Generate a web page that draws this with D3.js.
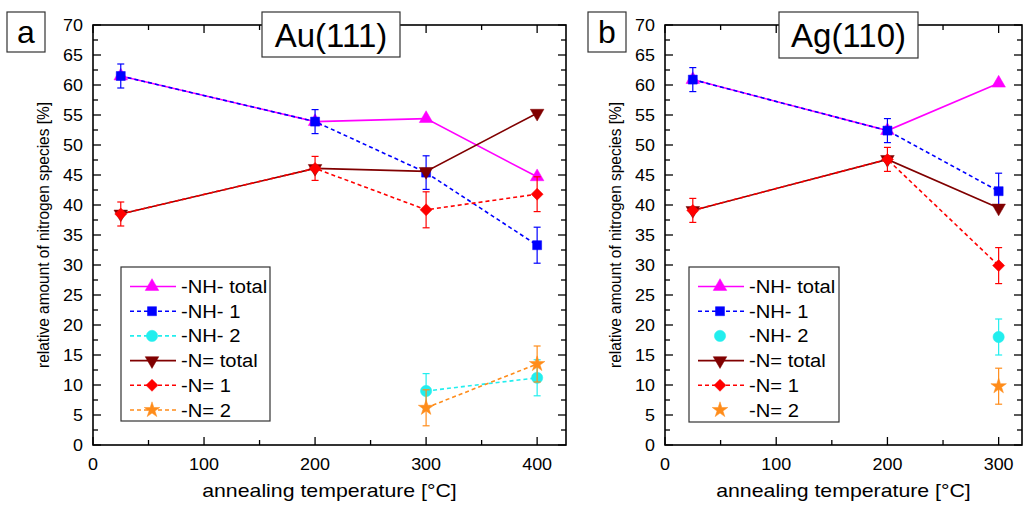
<!DOCTYPE html>
<html><head><meta charset="utf-8">
<script src="https://cdn.jsdelivr.net/npm/d3@7"></script>
<style>
body{margin:0;background:#fff;}
svg{display:block;font-family:"Liberation Sans",Arial,sans-serif;}
</style></head>
<body><svg id="c" width="1027" height="506"></svg>
<script>
// ---------- data ----------
const seriesNames = ["-NH- total", "-NH- 1", "-NH- 2", "-N= total", "-N= 1", "-N= 2"];
const yTicks = [0,5,10,15,20,25,30,35,40,45,50,55,60,65,70];
const xTicksA = [0,100,200,300,400];
const xTicksB = [0,100,200,300];

// Au(111)
const tempsA = [25, 200, 300, 400];
const nhTotalA = [61.5, 53.9, 54.4, 44.7];
const nh1A     = [61.5, 53.9, 45.4, 33.3];
const nh1ErrA  = [2.0, 2.0, 2.8, 3.0];
const nh2A     = [null, null, 9.0, 11.2];
const nh2ErrA  = [null, null, 2.9, 3.0];
const nTotalA  = [38.5, 46.1, 45.6, 55.3];
const n1A      = [38.5, 46.1, 39.2, 41.8];
const n1ErrA   = [2.0, 2.0, 3.0, 2.9];
const n2A      = [null, null, 6.2, 13.5];
const n2ErrA   = [null, null, 3.0, 3.0];

// Ag(110)
const tempsB = [25, 200, 300];
const nhTotalB = [60.9, 52.4, 60.3];
const nh1B     = [60.9, 52.4, 42.3];
const nh1ErrB  = [2.0, 2.0, 3.0];
const nh2B     = [null, null, 18.0];
const nh2ErrB  = [null, null, 3.0];
const nTotalB  = [39.1, 47.6, 39.5];
const n1B      = [39.1, 47.6, 29.9];
const n1ErrB   = [2.0, 2.0, 3.0];
const n2B      = [null, null, 9.8];
const n2ErrB   = [null, null, 3.0];

// ---------- styles ----------
const styles = [
  {color:"#ff00ff", dash:null, sym:"triUp"},
  {color:"#0000ff", dash:"4,3", sym:"square"},
  {color:"#22eeee", dash:"4,3", sym:"circle"},
  {color:"#800000", dash:null, sym:"triDown"},
  {color:"#ff0000", dash:"4,3", sym:"diamond"},
  {color:"#ff8c1a", dash:"4,3", sym:"star"}
];
function symPath(s){
  switch(s){
    case "triUp": return {d:d3.symbol(d3.symbolTriangle,80)(), rot:0};
    case "triDown": return {d:d3.symbol(d3.symbolTriangle,80)(), rot:180};
    case "square": return {d:d3.symbol(d3.symbolSquare,81)(), rot:0};
    case "circle": return {d:d3.symbol(d3.symbolCircle,100)(), rot:0};
    case "diamond": return {d:d3.symbol(d3.symbolSquare,72)(), rot:45};
    case "star": return {d:d3.symbol(d3.symbolStar,75)(), rot:0};
  }
}
const STRETCH = 1.12;
function stretch(sel, f){
  sel.each(function(){
    const w = this.getComputedTextLength();
    d3.select(this).attr("textLength", w*f).attr("lengthAdjust","spacingAndGlyphs");
  });
}

const svg = d3.select("#c");

function panel(opt){
  const {left,right,top,bottom,xmax,xTicks,temps,vals,errs,letter,title,letterBox,titleBox,legendBox} = opt;
  const x = d3.scaleLinear().domain([0,xmax]).range([left,right]);
  const y = d3.scaleLinear().domain([0,70]).range([bottom,top]);
  const g = svg.append("g");

  // frame
  g.append("rect").attr("x",left).attr("y",top).attr("width",right-left).attr("height",bottom-top)
    .attr("fill","none").attr("stroke","#000").attr("stroke-width",1.6);

  // ticks
  const xMinor = d3.range(0, xmax+1, 50);
  const yMinor = d3.range(0, 70.1, 2.5);
  const tk = g.append("g").attr("stroke","#000").attr("stroke-width",1.3);
  xMinor.forEach(v=>{
    const major = v%100===0; const L = major?8:5;
    tk.append("line").attr("x1",x(v)).attr("x2",x(v)).attr("y1",bottom).attr("y2",bottom-L);
    tk.append("line").attr("x1",x(v)).attr("x2",x(v)).attr("y1",top).attr("y2",top+L);
  });
  yMinor.forEach(v=>{
    const major = Math.abs(v%5)<1e-6; const L = major?8:5;
    tk.append("line").attr("x1",left).attr("x2",left+L).attr("y1",y(v)).attr("y2",y(v));
    tk.append("line").attr("x1",right).attr("x2",right-L).attr("y1",y(v)).attr("y2",y(v));
  });
  // tick labels
  g.selectAll(".xl").data(xTicks).enter().append("text")
    .attr("x",d=>x(d)).attr("y",bottom+25).attr("text-anchor","middle")
    .attr("font-size",16).attr("fill","#000").text(d=>d).call(stretch, STRETCH);
  g.selectAll(".yl").data(yTicks).enter().append("text")
    .attr("x",left-10).attr("y",d=>y(d)+6).attr("text-anchor","end")
    .attr("font-size",16).attr("fill","#000").text(d=>d).call(stretch, STRETCH);

  // axis titles
  g.append("text").attr("x",(left+right)/2).attr("y",497).attr("text-anchor","middle")
    .attr("font-size",19).attr("fill","#000").text("annealing temperature [°C]").call(stretch, STRETCH);
  g.append("text").attr("transform",`translate(${left-44},${(top+bottom)/2}) rotate(-90)`)
    .attr("text-anchor","middle").attr("font-size",17).attr("fill","#000")
    .attr("textLength",266).attr("lengthAdjust","spacingAndGlyphs")
    .text("relative amount of nitrogen species [%]");

  // series
  const lineGen = d3.line().defined(d=>d.v!=null).x(d=>x(d.t)).y(d=>y(d.v));
  vals.forEach((arr,i)=>{
    const st = styles[i];
    const pts = arr.map((v,j)=>({t:temps[j], v, e: errs[i]? errs[i][j] : null}));
    const sg = g.append("g");
    const nDef = pts.filter(p=>p.v!=null).length;
    if(nDef>1){
      sg.append("path").datum(pts).attr("d",lineGen).attr("fill","none")
        .attr("stroke",st.color).attr("stroke-width",1.6)
        .attr("stroke-dasharray",st.dash);
    }
    pts.filter(p=>p.v!=null && p.e!=null).forEach(p=>{
      const cx = x(p.t);
      sg.append("line").attr("x1",cx).attr("x2",cx).attr("y1",y(p.v-p.e)).attr("y2",y(p.v+p.e))
        .attr("stroke",st.color).attr("stroke-width",1.2);
      [p.v-p.e,p.v+p.e].forEach(w=>{
        sg.append("line").attr("x1",cx-3.5).attr("x2",cx+3.5).attr("y1",y(w)).attr("y2",y(w))
          .attr("stroke",st.color).attr("stroke-width",1.2);
      });
    });
    const sp = symPath(st.sym);
    pts.filter(p=>p.v!=null).forEach(p=>{
      sg.append("path").attr("d",sp.d)
        .attr("transform",`translate(${x(p.t)},${y(p.v)}) rotate(${sp.rot})`)
        .attr("fill",st.color).attr("stroke",st.color).attr("stroke-width",0.5);
    });
  });

  // legend
  const lb = legendBox;
  const lg = g.append("g");
  lg.append("rect").attr("x",lb.x).attr("y",lb.y).attr("width",lb.w).attr("height",lb.h)
    .attr("fill","#fff").attr("stroke","#333").attr("stroke-width",1.2);
  seriesNames.forEach((name,i)=>{
    const st = styles[i];
    const yy = lb.y + 19.5 + i*24.7;
    const nDef = vals[i].filter(v=>v!=null).length;
    if(nDef>1){
      lg.append("line").attr("x1",lb.x+9).attr("x2",lb.x+55).attr("y1",yy).attr("y2",yy)
        .attr("stroke",st.color).attr("stroke-width",1.6).attr("stroke-dasharray",st.dash);
    }
    const sp = symPath(st.sym);
    lg.append("path").attr("d",sp.d).attr("transform",`translate(${lb.x+31},${yy}) rotate(${sp.rot})`)
      .attr("fill",st.color).attr("stroke",st.color).attr("stroke-width",0.5);
    lg.append("text").attr("x",lb.x+60).attr("y",yy+6.5).attr("font-size",18).attr("fill","#000")
      .text(name).call(stretch, STRETCH);
  });

  // letter & title boxes
  const b1 = letterBox;
  g.append("rect").attr("x",b1.x).attr("y",b1.y).attr("width",b1.w).attr("height",b1.h)
    .attr("fill","#fff").attr("stroke","#333").attr("stroke-width",1.2);
  g.append("text").attr("x",b1.x+b1.w/2).attr("y",b1.y+b1.h/2+11).attr("text-anchor","middle")
    .attr("font-size",32).attr("fill","#000").text(letter);
  const b2 = titleBox;
  g.append("rect").attr("x",b2.x).attr("y",b2.y).attr("width",b2.w).attr("height",b2.h)
    .attr("fill","#fff").attr("stroke","#333").attr("stroke-width",1.2);
  g.append("text").attr("x",b2.x+b2.w/2).attr("y",b2.y+b2.h/2+12).attr("text-anchor","middle")
    .attr("font-size",33).attr("fill","#000").text(title);
}

panel({
  left:93, right:566, top:25, bottom:445, xmax:426, xTicks:xTicksA, temps:tempsA,
  vals:[nhTotalA, nh1A, nh2A, nTotalA, n1A, n2A],
  errs:[null, nh1ErrA, nh2ErrA, null, n1ErrA, n2ErrA],
  letter:"a", title:"Au(111)",
  letterBox:{x:7,y:12,w:38,h:40}, titleBox:{x:262,y:12,w:138,h:45},
  legendBox:{x:121,y:267,w:149,h:154}
});
panel({
  left:665, right:1022, top:25, bottom:445, xmax:321, xTicks:xTicksB, temps:tempsB,
  vals:[nhTotalB, nh1B, nh2B, nTotalB, n1B, n2B],
  errs:[null, nh1ErrB, nh2ErrB, null, n1ErrB, n2ErrB],
  letter:"b", title:"Ag(110)",
  letterBox:{x:588,y:12,w:38,h:40}, titleBox:{x:779,y:12,w:139,h:46},
  legendBox:{x:689,y:267,w:150,h:155}
});
</script></body></html>
